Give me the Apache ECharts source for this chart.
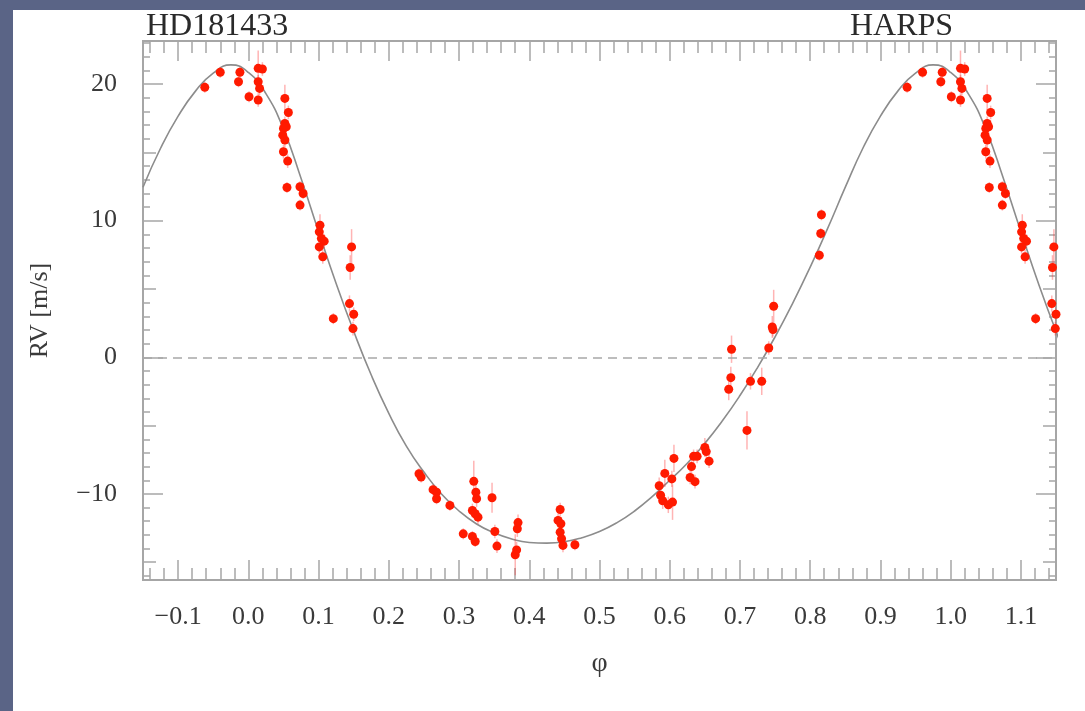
<!DOCTYPE html>
<html><head><meta charset="utf-8">
<script src="https://cdn.jsdelivr.net/npm/echarts@6/dist/echarts.min.js"></script>
<style>
html,body{margin:0;padding:0;background:#5a6486;width:1085px;height:711px;overflow:hidden;}
#panel{position:absolute;left:13px;top:10px;right:0;bottom:0;background:#fff;}
#chart{position:absolute;left:0;top:0;width:1085px;height:711px;}
</style></head><body><div id="panel"></div><div id="chart"></div>
<script>
// ---- data (orbital phase in [0,1), RV in m/s, error in m/s) ----
const phase = [0.938,0.960,0.986,0.988,0.001,0.014,0.020,0.014,0.016,0.014,
  0.052,0.057,0.052,0.050,0.054,0.049,0.052,0.050,0.056,0.055,0.0735,0.078,0.0736,
  0.102,0.101,0.104,0.108,0.101,0.106,0.121,0.147,0.145,0.144,0.150,0.149,
  0.243,0.246,0.263,0.268,0.268,0.287,0.306,0.319,0.323,0.321,0.324,0.325,0.319,0.323,0.327,
  0.347,0.351,0.354,0.384,0.383,0.382,0.380,
  0.444,0.441,0.445,0.444,0.446,0.448,0.465,
  0.585,0.587,0.590,0.593,0.598,0.604,0.603,0.606,0.629,0.631,0.634,0.639,0.636,0.650,0.652,0.656,
  0.688,0.687,0.684,0.715,0.731,0.710,0.741,0.746,0.747,0.748,
  0.813,0.815,0.816];
const rv = [19.76,20.86,20.17,20.86,19.07,21.15,21.10,20.17,19.68,18.83,
  18.95,17.92,17.12,16.75,16.87,16.26,15.90,15.04,14.36,12.43,12.48,11.99,11.14,
  9.67,9.18,8.70,8.50,8.08,7.35,2.83,8.08,6.57,3.93,3.15,2.10,
  -8.52,-8.77,-9.69,-9.87,-10.35,-10.84,-12.92,-13.11,-13.48,-9.08,-9.87,-10.35,-11.21,-11.45,-11.70,
  -10.28,-12.75,-13.82,-12.10,-12.55,-14.10,-14.45,
  -11.14,-11.94,-12.18,-12.80,-13.28,-13.77,-13.72,
  -9.40,-10.10,-10.50,-8.50,-10.80,-10.60,-8.90,-7.40,-8.80,-8.00,-7.25,-7.25,-9.10,-6.60,-6.90,-7.60,
  0.59,-1.49,-2.34,-1.76,-1.76,-5.35,0.68,2.22,2.03,3.74,
  7.47,9.06,10.43];
const rvErr = [0.4,0.4,0.4,0.4,0.4,1.3,0.5,0.5,0.5,0.5,
  1.0,0.5,0.5,0.5,0.5,0.5,0.5,0.5,0.5,0.4,0.4,0.4,0.4,
  0.8,0.5,0.5,0.5,0.5,0.5,0.4,1.3,0.9,0.6,0.5,0.5,
  0.4,0.4,0.4,0.4,0.4,0.4,0.4,0.4,0.4,1.5,0.6,0.6,0.5,0.5,0.5,
  1.1,0.5,0.5,0.6,0.6,0.6,1.5,
  0.5,0.5,0.5,0.5,0.5,0.5,0.4,
  0.6,0.6,0.6,1.0,0.6,1.3,0.6,1.0,0.5,0.5,0.5,0.5,0.5,0.7,0.5,0.5,
  1.0,0.8,0.8,0.6,1.0,1.4,0.5,0.8,0.5,1.2,
  0.4,0.4,0.4];

const curvePhase = [-0.150,-0.125,-0.100,-0.075,-0.050,-0.025,0.000,0.025,0.050,0.075,
  0.100,0.125,0.150,0.175,0.200,0.225,0.250,0.275,0.300,0.325,
  0.350,0.375,0.400,0.425,0.450,0.475,0.500,0.525,0.550,0.575,
  0.600,0.625,0.650,0.675,0.700,0.725,0.750,0.775,0.800,0.825,0.850];
const curveRV = [12.45,15.3,17.65,19.5,20.8,21.4,20.85,19.3,16.7,13.1,
  9.2,5.4,1.9,-1.3,-4.1,-6.5,-8.4,-10.0,-11.25,-12.2,
  -12.85,-13.3,-13.55,-13.6,-13.5,-13.2,-12.75,-12.1,-11.25,-10.2,
  -9.0,-7.75,-6.3,-4.65,-2.8,-0.75,1.5,3.95,6.6,9.45,12.45];

const xTickValues = [-0.1,0.0,0.1,0.2,0.3,0.4,0.5,0.6,0.7,0.8,0.9,1.0,1.1];
const xTickLabels = ['\u22120.1','0.0','0.1','0.2','0.3','0.4','0.5','0.6','0.7','0.8','0.9','1.0','1.1'];
const yTickValues = [-10,0,10,20];
const yTickLabels = ['\u221210','0','10','20'];

const titleLeft = 'HD181433', titleRight = 'HARPS';
const xName = '\u03c6', yName = 'RV [m/s]';

// ---- build ----
const XMIN = -0.15, XMAX = 1.15, YMIN = -16.3, YMAX = 23.15;
const pts = [], errs = [];
for (let i = 0; i < phase.length; i++) {
  for (const s of [-1, 0, 1]) {
    const p = phase[i] + s;
    if (p >= XMIN - 1e-9 && p <= XMAX + 1e-9) {
      pts.push([p, rv[i]]);
      errs.push([p, rv[i], rvErr[i]]);
    }
  }
}
const curve = [];
for (let i = 0; i < curvePhase.length; i++) curve.push([curvePhase[i], curveRV[i]]);
for (let i = 1; i < curvePhase.length; i++) {
  const p = curvePhase[i] + 1;
  curve.push([p, curveRV[i]]);
  if (p > XMAX + 0.03) break;
}

const xMinor = [];
for (let k = -7; k <= 57; k++) { const v = Math.round(k * 2) / 100; if (k % 5 !== 0) xMinor.push(v); }
const yMed = [-15,-5,5,15];
const yMinor = [];
for (let v = -16; v <= 23; v++) if (v % 5 !== 0) yMinor.push(v);

const serif = "'Liberation Serif','DejaVu Serif','Times New Roman',serif";
const axCol = '#a6a6a6';
function lab(vals, labels) {
  return function (v) {
    for (let i = 0; i < vals.length; i++) if (Math.abs(vals[i] - v) < 1e-6) return labels[i];
    return '';
  };
}
function xAx(pos, ticks, len, labels) {
  return {
    type: 'value', position: pos, min: XMIN, max: XMAX,
    axisLine: { show: false, onZero: false },
    splitLine: { show: false },
    axisTick: { show: true, inside: true, length: len, customValues: ticks, lineStyle: { color: axCol, width: 1.5 } },
    axisLabel: labels ? { show: true, customValues: xTickValues, formatter: lab(xTickValues, xTickLabels), margin: 24, fontFamily: serif, fontSize: 26, color: '#3a3a3a' } : { show: false },
    name: labels ? xName : '', nameLocation: 'middle', nameGap: 70,
    nameTextStyle: { fontFamily: serif, fontSize: 28, color: '#3a3a3a' }
  };
}
function yAx(pos, ticks, len, labels) {
  return {
    type: 'value', position: pos, min: YMIN, max: YMAX,
    axisLine: { show: false, onZero: false },
    splitLine: { show: false },
    axisTick: { show: true, inside: true, length: len, customValues: ticks, lineStyle: { color: axCol, width: 1.5 } },
    axisLabel: labels ? { show: true, customValues: yTickValues, formatter: lab(yTickValues, yTickLabels), margin: 26, fontFamily: serif, fontSize: 26, color: '#3a3a3a' } : { show: false },
    name: labels ? yName : '', nameLocation: 'middle', nameGap: 90, nameRotate: 90,
    nameTextStyle: { fontFamily: serif, fontSize: 26, color: '#3a3a3a' }
  };
}

const chart = echarts.init(document.getElementById('chart'), null, { renderer: 'canvas' });
chart.setOption({
  animation: false,
  backgroundColor: 'transparent',
  title: [
    { text: titleLeft, left: 141, top: 6, textStyle: { fontFamily: serif, fontSize: 32, fontWeight: 'normal', color: '#2a2a2a' } },
    { text: titleRight, left: 845, top: 6, textStyle: { fontFamily: serif, fontSize: 32, fontWeight: 'normal', color: '#2a2a2a' } }
  ],
  grid: { left: 143, right: 29, top: 41, bottom: 131, show: true, borderColor: axCol, borderWidth: 2, backgroundColor: 'transparent' },
  xAxis: [
    xAx('bottom', xTickValues, 20, true),
    xAx('bottom', xMinor, 12, false),
    xAx('top', xTickValues, 20, false),
    xAx('top', xMinor, 12, false)
  ],
  yAxis: [
    yAx('left', yTickValues, 20, true),
    yAx('left', yMed, 13, false),
    yAx('left', yMinor, 7, false),
    yAx('right', yTickValues, 20, false),
    yAx('right', yMed, 13, false),
    yAx('right', yMinor, 7, false)
  ],
  series: [
    {
      type: 'line', data: curve, smooth: 0.5, showSymbol: false, clip: true, silent: true,
      lineStyle: { color: '#8c8c8c', width: 1.6 }, z: 2,
      markLine: {
        silent: true, symbol: 'none', label: { show: false },
        lineStyle: { color: '#a8a8a8', type: [9, 6], width: 1.6 },
        data: [{ yAxis: 0 }]
      }
    },
    {
      type: 'custom', data: errs, clip: true, silent: true, z: 3,
      renderItem: function (params, api) {
        const x = api.value(0), y = api.value(1), e = api.value(2);
        const a = api.coord([x, y - e]), b = api.coord([x, y + e]);
        return { type: 'line', shape: { x1: a[0], y1: a[1], x2: b[0], y2: b[1] }, style: { stroke: 'rgba(255,40,40,0.35)', lineWidth: 1.5 } };
      }
    },
    {
      type: 'scatter', data: pts, symbol: 'circle', symbolSize: 9, clip: true, silent: true, z: 4,
      itemStyle: { color: '#ff1a00', opacity: 1 }
    }
  ]
});
</script></body></html>
